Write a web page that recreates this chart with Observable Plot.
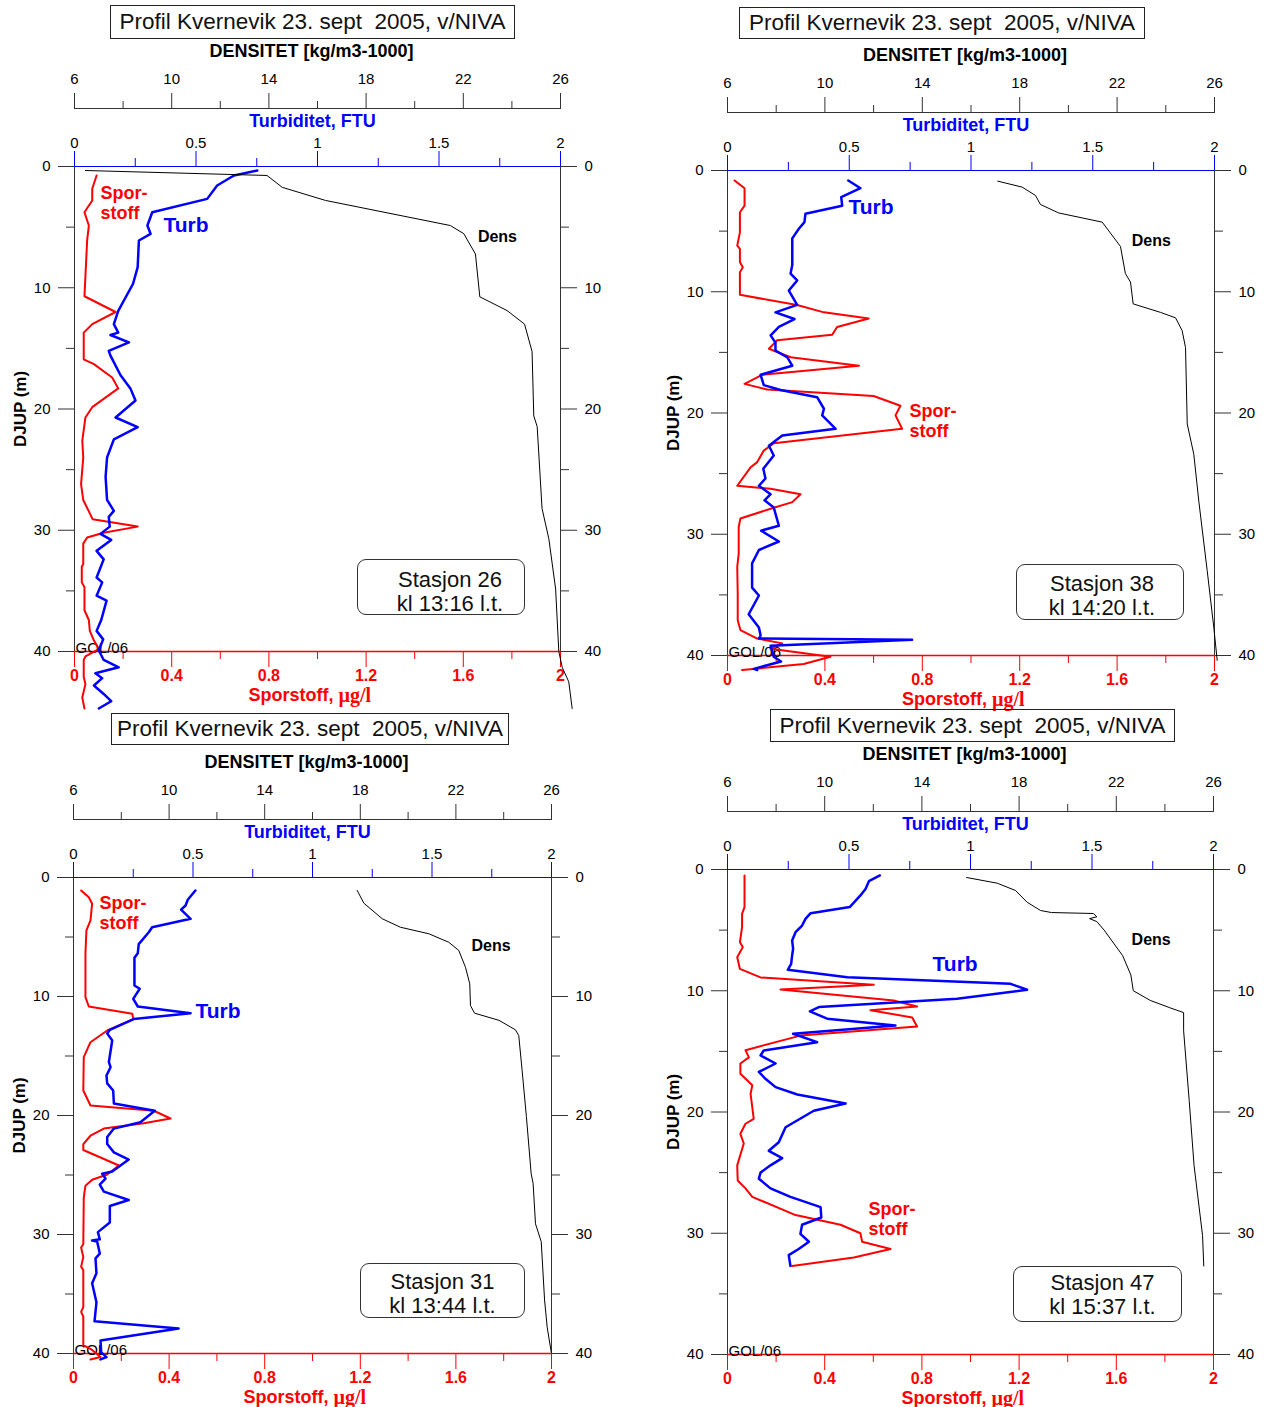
<!DOCTYPE html>
<html><head><meta charset="utf-8">
<script src="https://cdn.jsdelivr.net/npm/d3@7"></script>
<script src="https://cdn.jsdelivr.net/npm/@observablehq/plot@0.6"></script>
<style>
html,body{margin:0;padding:0;background:#fff;overflow:hidden;}
#root{position:relative;width:1270px;height:1407px;font-family:"Liberation Sans",Arial,sans-serif;}
.title{position:absolute;border:1px solid #222;box-sizing:border-box;font-size:22.5px;text-align:center;white-space:pre;color:#111;}
.station{position:absolute;border:1px solid #333;border-radius:9px;box-sizing:border-box;font-size:22px;line-height:24px;text-align:center;color:#111;}
</style></head><body><div id="root"></div>
<script>
// ---- data: [depth (m), value] ----
const st26Spor = [[0.74,0.091],[1.84,0.073],[2.8,0.073],[3.77,0.041],[4.87,0.059],[6.1,0.052],[10.7,0.041],[12.0,0.169],[13.0,0.073],[13.7,0.038],[15.9,0.038],[16.3,0.08],[17.4,0.155],[18.3,0.18],[19.85,0.073],[20.7,0.045],[22.6,0.032],[24.0,0.036],[26.2,0.027],[27.5,0.036],[29.1,0.075],[29.7,0.26],[30.2,0.12],[30.6,0.052],[31.1,0.036],[32.8,0.036],[33.0,0.03],[34.3,0.03],[34.7,0.041],[36.6,0.041],[37.4,0.059],[38.3,0.063],[39.1,0.08],[39.8,0.1],[40.4,0.045],[40.7,0.038],[42.1,0.038],[42.7,0.045],[43.8,0.032],[44.7,0.041]];
const st26Turb = [[0.33,0.752],[0.74,0.656],[1.57,0.587],[2.67,0.546],[3.77,0.32],[4.87,0.30],[5.55,0.313],[6.1,0.265],[8.3,0.26],[9.67,0.241],[11.9,0.18],[13.0,0.162],[13.7,0.18],[13.9,0.148],[14.5,0.224],[15.2,0.141],[15.6,0.148],[17.2,0.189],[18.3,0.23],[19.3,0.251],[20.7,0.169],[21.5,0.26],[22.5,0.162],[24.0,0.134],[25.6,0.128],[27.5,0.134],[28.4,0.162],[28.9,0.141],[29.7,0.145],[30.3,0.107],[30.8,0.151],[31.7,0.091],[32.4,0.12],[33.9,0.091],[34.3,0.114],[35.4,0.091],[35.8,0.132],[37.4,0.11],[38.3,0.091],[39.0,0.118],[39.9,0.1],[40.7,0.12],[41.3,0.182],[41.8,0.086],[42.2,0.114],[42.8,0.08],[43.5,0.12],[44.1,0.151],[44.7,0.1]];
const st26Dens = [[0.33,6.45],[0.74,13.92],[1.72,14.55],[2.8,16.33],[4.87,21.47],[5.54,22.02],[7.22,22.5],[10.75,22.68],[11.88,23.8],[13.0,24.52],[15.26,24.83],[20.57,24.9],[21.45,25.04],[28.2,25.24],[30.7,25.52],[34.85,25.8],[40.0,25.93],[41.3,26.07],[42.5,26.34],[44.7,26.48]];

const st38Spor = [[0.82,0.029],[1.46,0.07],[2.9,0.07],[3.44,0.051],[5.1,0.051],[6.2,0.04],[6.46,0.051],[7.56,0.051],[7.97,0.063],[8.4,0.051],[10.25,0.051],[11.1,0.286],[11.7,0.396],[12.2,0.58],[12.9,0.45],[13.55,0.43],[14.0,0.204],[14.7,0.17],[15.4,0.259],[16.1,0.54],[16.85,0.142],[17.6,0.07],[18.06,0.163],[18.6,0.60],[19.4,0.71],[20.2,0.69],[21.3,0.717],[22.5,0.19],[23.1,0.149],[24.05,0.122],[24.5,0.094],[26.0,0.04],[26.25,0.177],[26.7,0.30],[27.35,0.266],[27.9,0.177],[28.7,0.053],[29.4,0.046],[31.6,0.046],[32.7,0.04],[34.9,0.042],[37.1,0.042],[37.9,0.053],[38.6,0.122],[39.0,0.225],[39.45,0.177],[40.1,0.423],[40.7,0.313],[41.2,0.06]];
const st38Turb = [[0.82,0.496],[1.46,0.546],[2.2,0.467],[2.9,0.471],[3.57,0.32],[4.26,0.316],[4.8,0.293],[5.6,0.266],[7.8,0.266],[8.5,0.259],[9.07,0.286],[9.9,0.252],[11.08,0.286],[11.7,0.197],[12.25,0.275],[12.9,0.211],[13.6,0.177],[14.2,0.197],[14.85,0.197],[15.4,0.245],[16.1,0.266],[16.85,0.136],[17.7,0.149],[18.1,0.218],[18.7,0.368],[19.65,0.396],[20.2,0.389],[21.3,0.444],[21.85,0.225],[22.7,0.17],[23.5,0.19],[24.6,0.147],[25.4,0.156],[26.0,0.129],[26.7,0.177],[27.2,0.152],[27.8,0.19],[29.3,0.211],[29.7,0.138],[30.6,0.211],[31.3,0.129],[32.4,0.101],[34.4,0.101],[35.05,0.129],[36.6,0.087],[37.7,0.129],[38.35,0.136],[38.6,0.129],[38.7,0.758],[39.2,0.177],[40.1,0.19],[40.5,0.22],[41.1,0.108],[41.2,0.122]];
const st38Dens = [[0.88,17.10],[1.37,18.10],[2.06,18.65],[2.8,18.85],[3.5,19.6],[4.26,21.39],[6.27,22.14],[8.5,22.34],[9.2,22.55],[11.0,22.66],[11.7,23.78],[12.15,24.40],[13.2,24.67],[14.6,24.81],[20.9,24.88],[23.4,25.15],[27.35,25.36],[33.0,25.70],[37.66,25.97],[40.4,26.11]];

const st31Spor = [[1.09,0.032],[1.66,0.064],[2.2,0.078],[3.6,0.071],[4.45,0.054],[6.4,0.05],[10.06,0.05],[10.84,0.064],[11.45,0.246],[11.9,0.25],[12.86,0.141],[13.84,0.071],[15.1,0.043],[17.9,0.041],[19.16,0.071],[19.6,0.336],[20.25,0.406],[20.65,0.294],[21.1,0.127],[21.7,0.071],[22.4,0.041],[22.9,0.041],[24.2,0.19],[24.96,0.141],[25.4,0.078],[25.9,0.05],[26.9,0.043],[30.8,0.041],[31.1,0.032],[31.9,0.041],[32.7,0.032],[33.0,0.041],[36.1,0.041],[36.5,0.032],[36.9,0.041],[39.3,0.041],[39.7,0.078],[40.3,0.113],[40.5,0.071]];
const st31Turb = [[1.09,0.51],[1.87,0.478],[2.35,0.469],[2.7,0.45],[3.47,0.49],[4.18,0.329],[4.6,0.315],[5.6,0.273],[6.36,0.269],[6.75,0.255],[9.07,0.255],[9.35,0.277],[10.2,0.25],[10.84,0.269],[11.4,0.49],[11.9,0.252],[12.8,0.152],[13.1,0.141],[13.7,0.162],[15.5,0.148],[15.94,0.155],[16.64,0.138],[17.3,0.141],[17.9,0.166],[19.0,0.169],[19.6,0.34],[20.56,0.28],[21.1,0.169],[21.8,0.141],[22.4,0.141],[23.1,0.169],[23.7,0.231],[24.7,0.162],[24.9,0.12],[25.3,0.134],[25.8,0.11],[26.4,0.127],[27.1,0.231],[27.6,0.152],[29.0,0.152],[29.8,0.102],[30.4,0.11],[30.5,0.078],[30.6,0.099],[31.6,0.11],[32.0,0.092],[33.25,0.096],[34.1,0.078],[35.7,0.096],[37.3,0.088],[37.9,0.44],[38.9,0.113],[39.9,0.116],[40.3,0.138],[40.5,0.113]];
const st31Dens = [[1.09,17.87],[2.16,18.15],[3.47,18.92],[4.18,19.68],[4.73,20.87],[5.44,21.70],[6.13,22.12],[7.54,22.40],[8.93,22.58],[10.76,22.61],[11.4,22.78],[12.0,23.80],[12.8,24.49],[13.28,24.63],[16.2,24.77],[20.1,24.95],[24.9,25.15],[25.7,25.23],[29.1,25.33],[30.6,25.57],[35.5,25.71],[37.8,25.82],[39.9,25.99]];

const st47Spor = [[0.49,0.07],[3.1,0.07],[3.66,0.06],[4.76,0.06],[6.0,0.051],[6.4,0.063],[7.23,0.04],[8.2,0.051],[8.9,0.136],[9.5,0.602],[9.9,0.218],[10.8,0.684],[11.3,0.78],[11.6,0.588],[12.2,0.76],[12.95,0.78],[13.7,0.30],[14.9,0.074],[15.5,0.088],[16.0,0.053],[16.85,0.053],[17.8,0.102],[18.5,0.095],[20.56,0.108],[20.97,0.074],[21.8,0.053],[22.6,0.067],[24.4,0.04],[25.65,0.042],[26.3,0.074],[27.0,0.102],[28.5,0.28],[29.3,0.465],[30.0,0.547],[30.7,0.554],[31.3,0.671],[32.0,0.52],[32.7,0.266]];
const st47Turb = [[0.49,0.627],[0.96,0.582],[1.6,0.568],[2.14,0.547],[3.1,0.503],[3.6,0.342],[4.07,0.321],[4.62,0.307],[5.17,0.28],[5.86,0.266],[6.54,0.27],[7.09,0.266],[7.78,0.262],[8.27,0.248],[8.88,0.493],[9.43,1.165],[9.92,1.233],[10.66,0.945],[11.35,0.376],[11.7,0.339],[12.3,0.41],[12.87,0.691],[13.55,0.27],[14.24,0.369],[14.93,0.149],[15.34,0.136],[16.0,0.198],[16.7,0.129],[17.26,0.156],[17.95,0.198],[18.56,0.287],[19.3,0.486],[19.9,0.355],[21.26,0.239],[22.5,0.211],[23.2,0.17],[23.8,0.225],[24.4,0.177],[25.0,0.136],[25.5,0.129],[26.3,0.177],[27.0,0.259],[27.85,0.383],[28.7,0.386],[29.3,0.307],[30.05,0.30],[30.7,0.335],[31.3,0.293],[31.8,0.252],[32.7,0.259]];
const st47Dens = [[0.66,15.84],[1.13,17.1],[1.73,17.85],[2.7,18.33],[3.38,18.88],[3.55,19.33],[3.63,21.06],[3.9,21.2],[4.05,20.9],[4.3,21.2],[5.0,21.5],[6.3,21.97],[7.1,22.26],[8.7,22.6],[10.0,22.7],[10.8,23.4],[11.4,24.2],[11.8,24.77],[13.3,24.77],[19.05,25.0],[24.4,25.2],[30.2,25.55],[32.7,25.6]];

// ---- tick values ----
const turbTicks = [0, 0.5, 1, 1.5, 2];
const turbMinor = [0.25, 0.75, 1.25, 1.75];
const sporTicks = [0, 0.4, 0.8, 1.2, 1.6, 2];
const sporMinor = [0.2, 0.6, 1, 1.4, 1.8];
const densTicks = [6, 10, 14, 18, 22, 26];
const densMinor = [8, 12, 16, 20, 24];
const depthTicks = [0, 10, 20, 30, 40];
const depthMinor = [5, 15, 25, 35];

const titleText = "Profil Kvernevik 23. sept  2005, v/NIVA";

// ---- panel layout ----
const panels = [
  {fx:74, fy:166, fw:486, fh:485, title:{l:110,t:5,w:405,h:34}, st:{l:357,t:559,w:168,h:56,pl:18,pt:8}, name:"Stasjon 26", time:"kl 13:16 l.t.",
   spor:st26Spor, turb:st26Turb, dens:st26Dens, sporAt:[0.107,2.97], turbAt:[0.366,4.87], densAt:[22.6,5.77]},
  {fx:727, fy:170, fw:487, fh:485, title:{l:739,t:7,w:406,h:32}, st:{l:1016,t:564,w:168,h:56,pl:4,pt:7}, name:"Stasjon 38", time:"kl 14:20 l.t.",
   spor:st38Spor, turb:st38Turb, dens:st38Dens, sporAt:[0.747,20.6], turbAt:[0.497,3.05], densAt:[22.6,5.77]},
  {fx:73, fy:877, fw:478, fh:476, title:{l:111,t:713,w:398,h:32}, st:{l:360,t:1263,w:165,h:55,pl:0,pt:6}, name:"Stasjon 31", time:"kl 13:44 l.t.",
   spor:st31Spor, turb:st31Turb, dens:st31Dens, sporAt:[0.109,2.94], turbAt:[0.51,11.26], densAt:[22.65,5.71]},
  {fx:727, fy:869, fw:486, fh:485, title:{l:770,t:709,w:405,h:33}, st:{l:1013,t:1266,w:169,h:56,pl:10,pt:4}, name:"Stasjon 47", time:"kl 15:37 l.t.",
   spor:st47Spor, turb:st47Turb, dens:st47Dens, sporAt:[0.58,28.78], turbAt:[0.844,7.84], densAt:[22.63,5.77]}
];

const FONT = '"Liberation Sans", Arial, sans-serif';
const RED = "#ff0000", BLUE = "#0000ff", AX = "#333";
const root = document.getElementById("root");

function place(el, l, t) {
  el.style.position = "absolute";
  el.style.left = l + "px";
  el.style.top = t + "px";
  root.appendChild(el);
}

for (const p of panels) {
  const mL = 74, mT = 125, mR = 50, mB = 56;
  const W = mL + p.fw + mR, H = mT + p.fh + mB;
  const common = {
    width: W, height: H, marginLeft: mL, marginRight: mR, marginTop: mT, marginBottom: mB,
    style: {fontFamily: FONT, fontSize: "15px", background: "transparent", overflow: "visible", color: "#000"}
  };
  const base = Plot.plot({
    ...common,
    x: {domain: [0, 2]},
    y: {domain: [0, 40], reverse: true},
    marks: [
      Plot.axisX({anchor: "top", ticks: turbTicks, tickSize: 16, tickPadding: 3, stroke: BLUE, fill: "#000", fontSize: 15, tickFormat: d => String(d), label: null}),
      Plot.axisX({anchor: "top", ticks: turbMinor, tickSize: 9, stroke: BLUE, tickFormat: () => "", label: null}),
      Plot.axisX({anchor: "bottom", ticks: sporTicks, tickSize: 16, tickPadding: 2, stroke: RED, fill: RED, fontWeight: "bold", fontSize: 16, tickFormat: d => String(d), label: null}),
      Plot.axisX({anchor: "bottom", ticks: sporMinor, tickSize: 8, stroke: RED, tickFormat: () => "", label: null}),
      Plot.axisY({anchor: "left", ticks: depthTicks, tickSize: 16, tickPadding: 8, stroke: AX, label: null}),
      Plot.axisY({anchor: "left", ticks: depthMinor, tickSize: 8, stroke: AX, tickFormat: () => "", label: null}),
      Plot.axisY({anchor: "right", ticks: depthTicks, tickSize: 16, tickPadding: 8, stroke: AX, label: null}),
      Plot.axisY({anchor: "right", ticks: depthMinor, tickSize: 8, stroke: AX, tickFormat: () => "", label: null}),
      Plot.ruleX([0, 2], {stroke: AX}),
      Plot.ruleY([0], {stroke: BLUE}),
      Plot.ruleY([40], {stroke: RED, strokeWidth: 1.5}),
      Plot.text(["DJUP (m)"], {text: d => d, frameAnchor: "left", textAnchor: "middle", lineAnchor: "middle", dx: -54, rotate: -90, fontWeight: "bold", fontSize: 17}),
      Plot.text(["Turbiditet, FTU"], {text: d => d, frameAnchor: "top", lineAnchor: "middle", dy: -45, dx: -5, fill: BLUE, fontWeight: "bold", fontSize: 18}),
      Plot.text(["Sporstoff,"], {text: d => d, frameAnchor: "bottom", lineAnchor: "middle", dy: 44, dx: 16, textAnchor: "end", fill: RED, fontWeight: "bold", fontSize: 18}),
      Plot.text(["µg/l"], {text: d => d, frameAnchor: "bottom", lineAnchor: "middle", dy: 44, dx: 21, textAnchor: "start", fill: RED, fontWeight: "bold", fontSize: 20, fontFamily: '"Liberation Serif", "Times New Roman", serif'}),
      Plot.text(["GOL/06"], {text: d => d, frameAnchor: "bottom-left", textAnchor: "start", lineAnchor: "bottom", dx: 1, dy: 1, fontSize: 15}),
      Plot.line(p.spor, {x: d => d[1], y: d => d[0], stroke: RED, strokeWidth: 2}),
      Plot.line(p.turb, {x: d => d[1], y: d => d[0], stroke: BLUE, strokeWidth: 2.5}),
      Plot.text([p.sporAt], {x: d => d[0], y: d => d[1], text: () => "Spor-\nstoff", textAnchor: "start", lineAnchor: "middle", fill: RED, fontWeight: "bold", fontSize: 18, lineHeight: 1.1}),
      Plot.text([p.turbAt], {x: d => d[0], y: d => d[1], text: () => "Turb", textAnchor: "start", lineAnchor: "middle", fill: BLUE, fontWeight: "bold", fontSize: 21})
    ]
  });
  const over = Plot.plot({
    ...common,
    x: {domain: [6, 26]},
    y: {domain: [0, 40], reverse: true, axis: null},
    marks: [
      Plot.ruleY([0], {dy: -58, stroke: AX}),
      Plot.axisX({anchor: "top", ticks: densTicks, tickSize: 16, tickPadding: 9, dy: -58, stroke: AX, fill: "#000", fontSize: 15, label: null}),
      Plot.axisX({anchor: "top", ticks: densMinor, tickSize: 8, dy: -58, stroke: AX, tickFormat: () => "", label: null}),
      Plot.text(["DENSITET [kg/m3-1000]"], {text: d => d, frameAnchor: "top", lineAnchor: "middle", dy: -115, dx: -6, fontWeight: "bold", fontSize: 18}),
      Plot.line(p.dens, {x: d => d[1], y: d => d[0], stroke: "#000", strokeWidth: 1}),
      Plot.text([p.densAt], {x: d => d[0], y: d => d[1], text: () => "Dens", textAnchor: "start", lineAnchor: "middle", fontWeight: "bold", fontSize: 16})
    ]
  });
  place(base, p.fx - mL, p.fy - mT);
  place(over, p.fx - mL, p.fy - mT);

  const t = document.createElement("div");
  t.className = "title";
  t.textContent = titleText;
  t.style.width = p.title.w + "px";
  t.style.height = p.title.h + "px";
  t.style.lineHeight = (p.title.h - 2) + "px";
  place(t, p.title.l, p.title.t);

  const s = document.createElement("div");
  s.className = "station";
  s.style.width = p.st.w + "px";
  s.style.height = p.st.h + "px";
  s.style.paddingLeft = p.st.pl + "px";
  s.style.paddingTop = p.st.pt + "px";
  const l1 = document.createElement("div"); l1.textContent = p.name;
  const l2 = document.createElement("div"); l2.textContent = p.time;
  s.appendChild(l1); s.appendChild(l2);
  place(s, p.st.l, p.st.t);
}
</script></body></html>
